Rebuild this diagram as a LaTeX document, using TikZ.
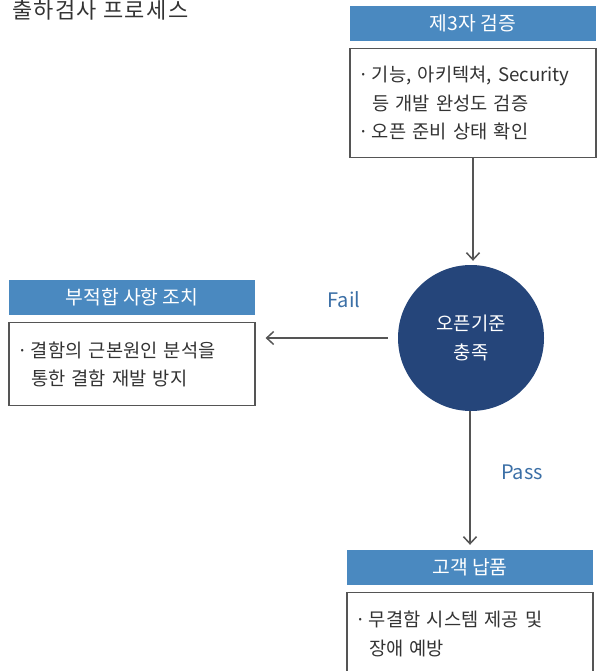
\documentclass[tikz,border=0pt]{standalone}
\usepackage{fontspec}
\setmainfont{Noto Sans CJK KR}
\newfontfamily\titlefont{Noto Sans CJK KR}[LetterSpace=6]
\usetikzlibrary{arrows.meta,positioning}
\definecolor{headblue}{RGB}{74,137,192}
\definecolor{navy}{RGB}{37,69,122}
\definecolor{txtgray}{RGB}{51,51,51}
\definecolor{linegray}{RGB}{85,85,85}
\definecolor{lblblue}{RGB}{59,111,166}
\newcommand{\bul}{\makebox[11pt][l]{\hspace{-3pt}·}}
\newcommand{\ind}{\hspace*{11pt}}

\begin{document}
\begin{tikzpicture}[
        x=1pt, y=-1pt,
        head/.style={rectangle, fill=headblue, minimum width=246pt, minimum height=35pt, inner sep=0pt, text=white, font=\fontsize{19.3}{28.5}\selectfont},
        body/.style={rectangle, draw=linegray, line width=1.2pt, text width=224pt, inner xsep=11pt, inner ysep=0pt, align=left, text=txtgray, font=\fontsize{18.7}{28.5}\selectfont},
        crit/.style={circle, fill=navy, minimum size=146pt, inner sep=0pt, align=center, text=white, font=\fontsize{18.8}{28.5}\selectfont},
        arrow/.style={-{Straight Barb[length=7pt,width=13pt]}, draw=linegray, line width=1.5pt},
        lbl/.style={text=lblblue, font=\fontsize{20}{24}\selectfont}
    ]
        \useasboundingbox (0,0) rectangle (601,671);

        \node[anchor=base west, text=txtgray, font=\titlefont\fontsize{22}{24}\selectfont, inner sep=0pt] (title) at (12,18.5) {출하검사 프로세스};

        \node[head] (checkhead) at (473,23.5) {제3자 검증};
        \node[body, minimum height=109pt, below=7pt of checkhead] (check) {\bul 기능, 아키텍쳐, Security\\\ind 등 개발 완성도 검증\\\bul 오픈 준비 상태 확인};

        \node[crit] (open) at (471,338) {오픈기준\\충족};

        \node[head] (fixhead) at (132,297.5) {부적합 사항 조치};
        \node[body, minimum height=83pt, below=7pt of fixhead] (fix) {\bul 결함의 근본원인 분석을\\\ind 통한 결함 재발 방지};

        \node[head] (shiphead) at (470,567.5) {고객 납품};
        \node[body, minimum height=82pt, below=7pt of shiphead] (ship) {\bul 무결함 시스템 제공 및\\\ind 장애 예방};

        \draw[arrow, shorten >=4pt] (check) -- (check |- open.north);
        \draw[arrow, shorten <=10pt, shorten >=10pt] (open.west) -- (fix.east |- open.west);
        \draw[arrow, shorten >=5pt] (open.south -| shiphead) -- (shiphead);

        \node[lbl] (fail) at (344,300) {Fail};
        \node[lbl] (pass) at (522,472) {Pass};
    \end{tikzpicture}
\end{document}
